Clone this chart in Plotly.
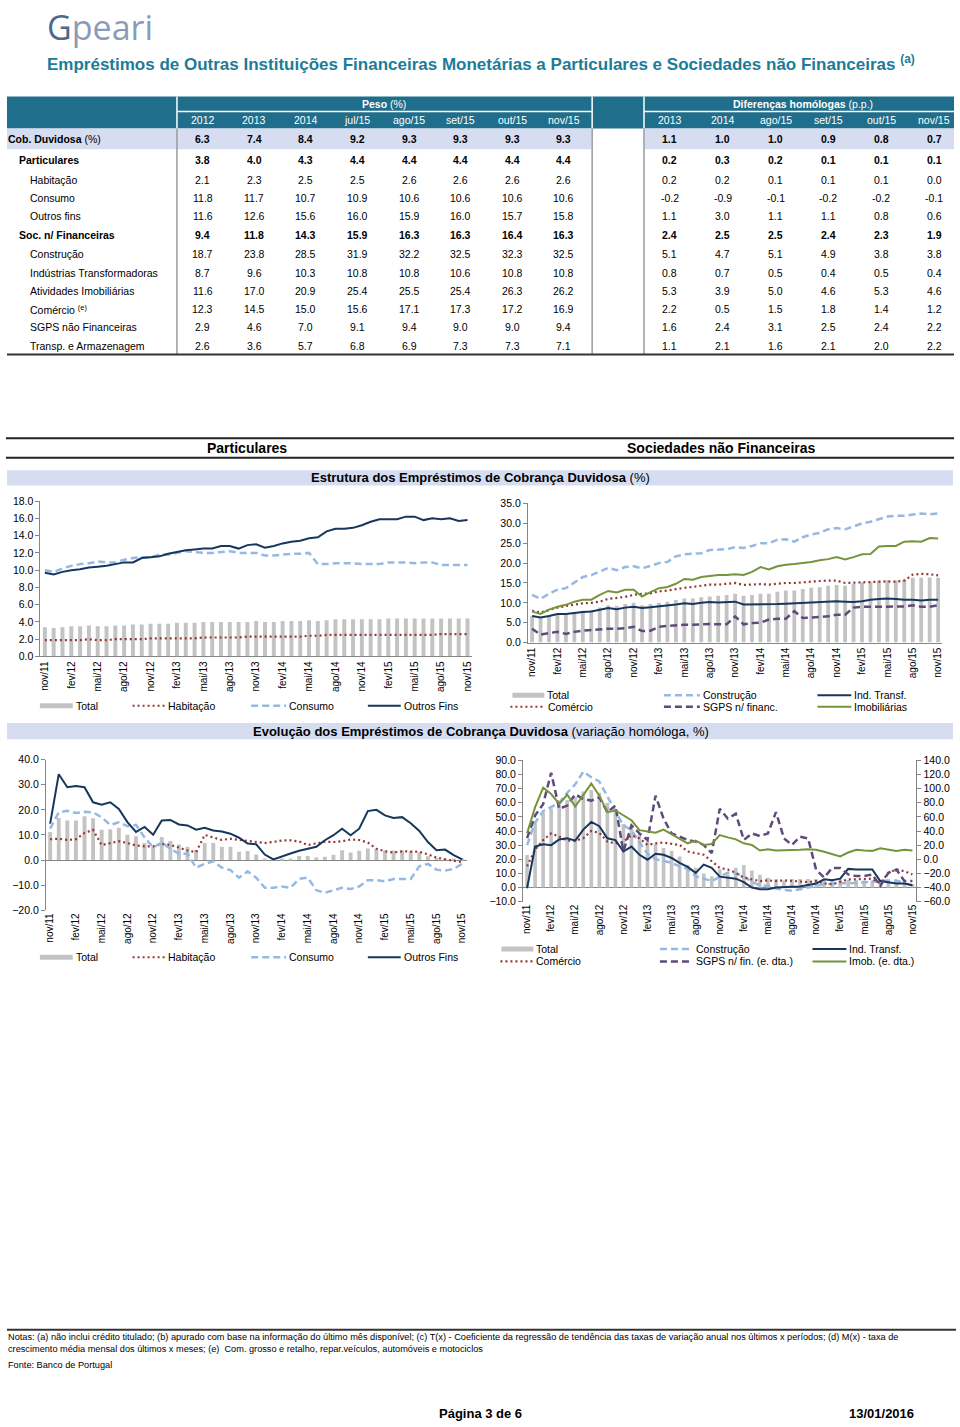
import plotly.graph_objects as go

W, H = 960, 1427
FONT = "Liberation Sans, Arial, Helvetica, sans-serif"

# ---------------- data ----------------
months = ["nov/11", "dez/11",
          "jan/12", "fev/12", "mar/12", "abr/12", "mai/12", "jun/12", "jul/12", "ago/12", "set/12", "out/12", "nov/12", "dez/12",
          "jan/13", "fev/13", "mar/13", "abr/13", "mai/13", "jun/13", "jul/13", "ago/13", "set/13", "out/13", "nov/13", "dez/13",
          "jan/14", "fev/14", "mar/14", "abr/14", "mai/14", "jun/14", "jul/14", "ago/14", "set/14", "out/14", "nov/14", "dez/14",
          "jan/15", "fev/15", "mar/15", "abr/15", "mai/15", "jun/15", "jul/15", "ago/15", "set/15", "out/15", "nov/15"]
tick_months = months[::3]

# Estrutura - Particulares (%)
p_total = [3.4, 3.3, 3.4, 3.5, 3.5, 3.6, 3.5, 3.5, 3.6, 3.6, 3.7, 3.7, 3.8, 3.8, 3.8, 3.9, 3.9, 3.9, 4.0, 4.0,
           4.0, 4.0, 4.0, 4.0, 4.1, 4.0, 4.0, 4.1, 4.1, 4.1, 4.2, 4.1, 4.2, 4.3, 4.3, 4.3, 4.3, 4.3, 4.3, 4.4,
           4.4, 4.4, 4.4, 4.4, 4.4, 4.4, 4.4, 4.4, 4.4]
p_hab = [1.9, 1.9, 1.9, 1.9, 1.9, 2.0, 1.9, 1.9, 2.0, 2.0, 2.0, 2.0, 2.1, 2.1, 2.1, 2.1, 2.1, 2.1, 2.2, 2.2,
         2.2, 2.2, 2.2, 2.3, 2.3, 2.3, 2.3, 2.3, 2.3, 2.3, 2.4, 2.4, 2.5, 2.5, 2.5, 2.5, 2.5, 2.5, 2.5, 2.5,
         2.5, 2.5, 2.5, 2.5, 2.5, 2.6, 2.6, 2.6, 2.6]
p_cons = [10.0, 9.8, 10.2, 10.5, 10.7, 10.8, 11.0, 10.9, 10.9, 11.2, 11.4, 11.5, 11.5, 11.8, 11.8, 12.0, 12.2, 12.1, 12.0, 12.0,
          12.1, 12.2, 12.0, 12.0, 12.0, 11.7, 11.7, 11.8, 11.9, 11.9, 12.0, 10.7, 10.7, 10.8, 10.8, 10.8, 10.7, 10.7, 10.7, 10.9,
          10.9, 10.9, 10.8, 10.9, 10.9, 10.6, 10.6, 10.6, 10.6]
p_outros = [9.7, 9.5, 9.8, 10.0, 10.1, 10.3, 10.4, 10.5, 10.7, 10.9, 10.9, 11.4, 11.5, 11.6, 11.9, 12.1, 12.3, 12.4, 12.5, 12.5,
            12.8, 12.8, 12.5, 12.9, 13.0, 12.6, 12.8, 13.1, 13.3, 13.4, 13.7, 13.8, 14.5, 14.8, 14.8, 14.9, 15.2, 15.6, 15.9, 15.9,
            15.9, 16.2, 16.2, 15.8, 16.0, 15.9, 16.0, 15.7, 15.8]

# Estrutura - Sociedades nao Financeiras (%)
s_total = [6.6, 6.2, 6.7, 7.1, 7.2, 7.6, 8.0, 8.2, 8.8, 9.4, 9.3, 9.7, 10.0, 9.4, 9.7, 10.0, 10.3, 10.7, 11.1, 11.1,
           11.4, 11.6, 11.8, 12.0, 12.3, 11.8, 12.0, 12.3, 12.3, 12.8, 13.1, 13.1, 13.5, 13.8, 13.9, 14.3, 14.5, 14.3, 14.8, 15.2,
           15.3, 15.6, 15.7, 15.7, 15.9, 16.3, 16.3, 16.4, 16.3]
s_cons = [12.0, 11.0, 12.3, 13.3, 13.7, 15.0, 16.5, 17.0, 17.8, 18.8, 18.2, 19.0, 19.2, 18.7, 19.3, 20.0, 20.3, 21.7, 22.2, 22.3,
          22.5, 23.3, 23.4, 23.5, 24.0, 23.8, 24.3, 25.0, 25.0, 25.9, 26.0, 25.4, 26.5, 27.2, 27.6, 28.5, 28.8, 28.5, 29.2, 30.0,
          30.4, 31.0, 31.7, 31.9, 31.9, 32.2, 32.5, 32.3, 32.5]
s_ind = [6.7, 6.3, 6.7, 7.2, 7.2, 7.5, 7.7, 7.8, 8.3, 8.7, 8.4, 8.8, 9.0, 8.7, 8.9, 9.1, 9.4, 9.6, 9.9, 9.7,
         10.0, 10.2, 10.1, 10.2, 10.3, 9.6, 9.6, 9.6, 9.6, 9.7, 9.8, 9.9, 10.1, 10.2, 10.2, 10.3, 10.4, 10.3, 10.2, 10.4,
         10.8, 11.0, 11.1, 11.0, 10.8, 10.8, 10.6, 10.8, 10.8]
s_com = [8.0, 7.6, 8.2, 8.8, 9.2, 9.6, 9.9, 10.0, 10.3, 11.0, 11.2, 11.5, 12.0, 12.3, 12.4, 12.9, 13.1, 13.5, 13.8, 14.0,
         14.3, 14.6, 14.6, 14.8, 15.0, 14.5, 14.6, 14.7, 14.6, 14.8, 15.0, 15.0, 15.2, 15.4, 15.5, 15.6, 15.6, 15.0, 15.1, 15.2,
         15.3, 15.3, 15.4, 15.3, 15.6, 17.1, 17.3, 17.2, 16.9]
s_sgps = [3.5, 2.0, 2.4, 2.7, 2.2, 2.7, 3.0, 3.2, 3.3, 3.5, 3.5, 3.6, 4.0, 2.9, 3.0, 4.0, 4.2, 4.4, 4.5, 4.5,
          4.6, 4.7, 4.6, 4.6, 6.6, 4.6, 4.9, 5.0, 5.8, 6.0, 6.0, 7.9, 6.2, 6.3, 6.4, 6.6, 7.0, 7.0, 8.8, 9.0,
          9.0, 9.0, 9.1, 9.0, 9.1, 9.4, 9.0, 9.0, 9.4]
s_imob = [7.8, 7.2, 8.3, 9.0, 9.5, 10.3, 10.8, 10.8, 12.0, 13.0, 12.6, 13.3, 13.3, 11.6, 12.7, 13.7, 14.0, 14.8, 16.0, 15.8,
          16.5, 16.8, 17.0, 17.0, 17.2, 17.0, 17.8, 19.0, 18.4, 19.2, 19.6, 19.8, 20.0, 20.3, 20.7, 21.0, 21.5, 20.9, 21.5, 22.2,
          22.3, 24.2, 24.3, 24.3, 25.4, 25.5, 25.4, 26.3, 26.2]

# Evolucao - Particulares (variacao homologa, %)
v_p_total = [11.2, 16.8, 15.8, 15.8, 17.5, 16.7, 12.1, 12.3, 12.9, 10.1, 9.5, 6.8, 5.3, 9.2, 7.6, 6.2, 5.3, 4.0, 6.8, 6.8,
             5.3, 5.3, 3.3, 3.6, 2.2, 0.5, 0.3, 0.4, 0.5, 1.6, 1.6, 1.0, 1.3, 2.1, 3.9, 3.0, 3.7, 4.6, 4.3, 3.8,
             3.8, 3.8, 3.5, 3.0, 1.5, 0.8, 0.5, 0.3, 0.2]
v_p_hab = [8.3, 8.5, 8.0, 8.3, 10.8, 12.0, 6.0, 6.8, 7.5, 6.8, 5.8, 5.5, 5.5, 6.5, 6.0, 5.0, 3.8, 3.2, 10.0, 9.0,
           8.0, 8.5, 8.0, 7.5, 7.0, 6.8, 7.2, 7.8, 7.9, 7.4, 6.0, 6.5, 7.3, 7.2, 7.5, 8.2, 8.0, 7.0, 4.5, 3.5,
           3.0, 3.5, 3.5, 3.3, 2.3, 1.0, 0.3, -0.3, -0.8]
v_p_cons = [12.5, 19.0, 19.6, 18.8, 19.2, 19.0, 17.0, 14.0, 15.0, 13.5, 14.0, 9.0, 5.0, 7.0, 4.5, 2.5, 2.5, -3.0, -1.5, -0.5,
            -3.0, -4.0, -7.0, -4.5, -7.0, -11.0, -11.0, -10.5, -11.0, -7.5, -7.0, -12.0, -13.0, -12.0, -11.0, -11.5, -10.5, -8.0, -8.0, -8.5,
            -7.5, -7.5, -7.5, -2.5, -1.5, -3.8, -4.2, -3.5, -1.5]
v_p_outros = [14.5, 34.2, 29.0, 29.5, 29.0, 23.0, 22.0, 23.0, 20.4, 15.1, 11.2, 13.2, 10.1, 15.8, 16.0, 14.2, 13.8, 12.1, 12.9, 11.8,
              11.4, 10.5, 8.9, 6.6, 6.3, 2.2, 0.3, 1.6, 2.6, 3.7, 4.6, 5.3, 7.9, 9.9, 12.5, 9.9, 12.5, 19.5, 20.0, 17.8,
              16.8, 17.1, 14.7, 11.6, 7.2, 3.9, 4.2, 2.0, 0.3]

# Evolucao - Sociedades nao Financeiras (variacao homologa, %)
v_s_total = [23, 46, 53, 56, 59, 62, 64, 68, 69, 67, 60, 53, 45, 43, 38, 33, 31, 28, 26, 22,
             16, 14, 10, 8, 13, 9, 14, 16, 12, 9, 7, 6, 5, 6, 6, 6, 6, 6, 6, 6,
             5.5, 5.5, 5, 5, 5, 4.5, 4.5, 4, 2.5]
v_s_cons = [30, 46, 54, 57, 60, 67, 73, 82, 78, 75, 64, 54, 44, 40.6, 32, 24, 20, 19, 17.4, 15,
            13.2, 8, 6.3, 4.6, 7.6, 10.4, 10, 8, 4, 1.6, 1.2, -0.7, -1.6, -2.3, -1.2, 0.2, 1.2, 2.3, 2.8, 3,
            3, 3.5, 4, 4.5, 5, 5, 5, 3, 1.6]
v_s_ind = [-0.5, 29, 30.6, 30, 34, 34.8, 33.2, 41, 46.4, 43.4, 34.8, 33.6, 25.5, 29, 23.2, 19.7, 23.9, 23.2, 20.9, 17.4,
           14.6, 10.4, 16.2, 13.9, 7.7, 7, 6.3, 3.9, 0, -1.2, -1.2, 0, 0, 0.5, 0.7, 1.6, 2.8, 5.8, 5.1, 6.3,
           13.2, 12.8, 12.8, 12.8, 4.6, 3.5, 2.8, 2.8, 1.6]
v_s_com = [15, 26.7, 33.6, 38.3, 36, 33.2, 33.2, 34.8, 40, 38.7, 32.5, 31.3, 32.5, 37, 34.8, 30.2, 31.3, 31.8, 30.9, 30.2,
           25.5, 24.4, 23.2, 18.6, 13.9, 12.8, 10.4, 7, 5.8, 4.6, 5.1, 4.6, 5.1, 4.6, 3.9, 3.9, 4.6, 3, 2.3, 3.9,
           5.8, 5.8, 5.8, 6.3, 3, 10.4, 12.8, 11.6, 9.3]
v_s_sgps = [30, 62, 78, 122.4, 71.4, 76, 92, 85, 83, 87.6, 66.7, 76, 11, 48, 36.6, 27.3, 90, 57.5, 36.6, 32,
            27.3, 25, 20.3, 8.7, 71.4, 57.5, 64.4, 27.3, 36.6, 32.9, 36.6, 66.7, 29.6, 20.3, 32, 29.6, -14.5, -26, -12.2, -12.2,
            -21.4, -23.8, -23.8, -21.4, -37.7, -19.1, -14.5, -30.7, -30.7]
v_s_imob = [36.6, 73.7, 101.5, 92.3, 78.3, 91.3, 74.6, 90, 107, 90, 66.7, 69, 62, 55.2, 41.2, 38.9, 37.5, 42.1, 35.6, 29.6,
            22.6, 26.4, 20.3, 21.7, 34.2, 31, 28.2, 22.6, 20.3, 12.4, 14.3, 12.4, 12.4, 12.4, 13.4, 14.3, 13.4, 10.6, 7.8, 4.1,
            9.6, 13.4, 12.4, 11.9, 15.7, 13.4, 11.9, 13.4, 12.4]

# Table
peso_cols = ["2012", "2013", "2014", "jul/15", "ago/15", "set/15", "out/15", "nov/15"]
dif_cols = ["2013", "2014", "ago/15", "set/15", "out/15", "nov/15"]
row_labels = ["<b>Cob. Duvidosa</b> (%)", "<b>Particulares</b>", "Habitação", "Consumo", "Outros fins",
              "<b>Soc. n/ Financeiras</b>", "Construção", "Indústrias Transformadoras", "Atividades Imobiliárias",
              "Comércio <sup>(e)</sup>", "SGPS não Financeiras", "Transp. e Armazenagem"]
row_bold = [True, True, False, False, False, True, False, False, False, False, False, False]
row_indent = [0, 1, 2, 2, 2, 1, 2, 2, 2, 2, 2, 2]
peso_rows = [
    [6.3, 7.4, 8.4, 9.2, 9.3, 9.3, 9.3, 9.3],
    [3.8, 4.0, 4.3, 4.4, 4.4, 4.4, 4.4, 4.4],
    [2.1, 2.3, 2.5, 2.5, 2.6, 2.6, 2.6, 2.6],
    [11.8, 11.7, 10.7, 10.9, 10.6, 10.6, 10.6, 10.6],
    [11.6, 12.6, 15.6, 16.0, 15.9, 16.0, 15.7, 15.8],
    [9.4, 11.8, 14.3, 15.9, 16.3, 16.3, 16.4, 16.3],
    [18.7, 23.8, 28.5, 31.9, 32.2, 32.5, 32.3, 32.5],
    [8.7, 9.6, 10.3, 10.8, 10.8, 10.6, 10.8, 10.8],
    [11.6, 17.0, 20.9, 25.4, 25.5, 25.4, 26.3, 26.2],
    [12.3, 14.5, 15.0, 15.6, 17.1, 17.3, 17.2, 16.9],
    [2.9, 4.6, 7.0, 9.1, 9.4, 9.0, 9.0, 9.4],
    [2.6, 3.6, 5.7, 6.8, 6.9, 7.3, 7.3, 7.1],
]
dif_rows = [
    [1.1, 1.0, 1.0, 0.9, 0.8, 0.7],
    [0.2, 0.3, 0.2, 0.1, 0.1, 0.1],
    [0.2, 0.2, 0.1, 0.1, 0.1, 0.0],
    [-0.2, -0.9, -0.1, -0.2, -0.2, -0.1],
    [1.1, 3.0, 1.1, 1.1, 0.8, 0.6],
    [2.4, 2.5, 2.5, 2.4, 2.3, 1.9],
    [5.1, 4.7, 5.1, 4.9, 3.8, 3.8],
    [0.8, 0.7, 0.5, 0.4, 0.5, 0.4],
    [5.3, 3.9, 5.0, 4.6, 5.3, 4.6],
    [2.2, 0.5, 1.5, 1.8, 1.4, 1.2],
    [1.6, 2.4, 3.1, 2.5, 2.4, 2.2],
    [1.1, 2.1, 1.6, 2.1, 2.0, 2.2],
]

# ---------------- styles ----------------
GREY = "#C3C3C3"
NAVY = "#17365D"
LBLUE = "#95B9E3"
RED = "#953735"
PURPLE = "#604A7B"
GREEN = "#77933C"
AX = "#868686"
DARK = "#1F6E8C"
LAV = "#D6DDF1"
TEAL = "#1B7C99"
DOT = "2px,3px"
DASH = "7px,4px"

shapes = []
annotations = []


def X(x):
    return x / W


def Y(y):
    return 1 - y / H


def rect(x0, y0, x1, y1, fill):
    shapes.append(dict(type="rect", xref="paper", yref="paper", x0=X(x0), x1=X(x1), y0=Y(y1), y1=Y(y0),
                       fillcolor=fill, line=dict(width=0), layer="below"))


def seg(x0, y0, x1, y1, color, width=1.0, dash="solid"):
    shapes.append(dict(type="line", xref="paper", yref="paper", x0=X(x0), x1=X(x1), y0=Y(y0), y1=Y(y1),
                       line=dict(color=color, width=width, dash=dash)))


def text(x, y, s, size=10.5, color="black", anchor="left", family=FONT):
    annotations.append(dict(xref="paper", yref="paper", x=X(x), y=Y(y), text=s, showarrow=False,
                            xanchor=anchor, yanchor="middle", borderpad=0, borderwidth=0,
                            font=dict(size=size, color=color, family=family)))


def leg(x0, x1, y, kind, color, label, dash="solid", width=2.0):
    if kind == "bar":
        rect(x0, y - 2.5, x1, y + 2.5, color)
    else:
        seg(x0, y, x1, y, color, width, dash)
    text(x1 + 3, y, label)


# ---------------- header ----------------
text(45, 21, "<span style='color:#50688F'>G</span>peari", size=34, color="#8A9BB8", family="Open Sans, Lato, sans-serif")
text(45, 57, "<b>Empréstimos de Outras Instituições Financeiras Monetárias a Particulares e Sociedades não Financeiras</b> <sup><b>(a)</b></sup>",
     size=17, color=TEAL)

# ---------------- table ----------------
rect(5, 91.3, 955, 123.5, DARK)
seg(175.5, 91.3, 175.5, 123.5, "white", 1.5)
seg(592, 91.3, 592, 123.5, "white", 1.5)
seg(644, 91.3, 644, 123.5, "white", 1.5)
seg(176, 106.5, 592, 106.5, "white", 1.5)
seg(644, 106.5, 955, 106.5, "white", 1.5)
rect(5, 123.5, 591.3, 144.5, LAV)
rect(644.7, 123.5, 955, 144.5, LAV)
seg(175.5, 123.5, 175.5, 351, "#9A9A9A", 1.5)
seg(592, 123.5, 592, 351, "#9A9A9A", 1.5)
seg(644, 123.5, 644, 351, "#9A9A9A", 1.5)
seg(5, 351.5, 955, 351.5, "#333333", 2)

text(383.5, 98.5, "<b>Peso</b> (%)", size=10.5, color="white", anchor="center")
text(804, 98.5, "<b>Diferenças homólogas</b> (p.p.)", size=10.5, color="white", anchor="center")
peso_x = [201.5 + i * 51.7 for i in range(len(peso_cols))]
dif_x = [670 + i * 53 for i in range(len(dif_cols))]
for cx, c in zip(peso_x, peso_cols):
    text(cx, 115, c, size=10.5, color="white", anchor="center")
for cx, c in zip(dif_x, dif_cols):
    text(cx, 115, c, size=10.5, color="white", anchor="center")

row_y = [134, 155, 175, 193.5, 211.5, 231, 250.5, 269, 287.5, 306, 324, 342.5]
indent_x = [6, 17, 28]
for r, lab in enumerate(row_labels):
    yy = row_y[r]
    text(indent_x[row_indent[r]], yy, lab, size=10.5)
    for cx, v in zip(peso_x, peso_rows[r]):
        s = f"{v:.1f}"
        text(cx, yy, f"<b>{s}</b>" if row_bold[r] else s, size=10.5, anchor="center")
    for cx, v in zip(dif_x, dif_rows[r]):
        s = f"{v:.1f}"
        text(cx, yy, f"<b>{s}</b>" if row_bold[r] else s, size=10.5, anchor="center")

# ---------------- section headers ----------------
seg(4, 436, 955, 436, "#222222", 2)
seg(4, 455.5, 955, 455.5, "#222222", 2)
text(246, 446, "<b>Particulares</b>", size=14, anchor="center")
text(722, 446, "<b>Sociedades não Financeiras</b>", size=14, anchor="center")
rect(5, 468.3, 954, 483.5, LAV)
text(480, 476, "<b>Estrutura dos Empréstimos de Cobrança Duvidosa</b> (%)", size=13, anchor="center")
rect(5, 723, 954, 739.5, LAV)
text(480, 731.3, "<b>Evolução dos Empréstimos de Cobrança Duvidosa</b> (variação homóloga, %)", size=13, anchor="center")

# ---------------- legends ----------------
for ly in (705.7, 959.3):
    leg(38, 71, ly, "bar", GREY, "Total")
    leg(131, 164, ly, "line", RED, "Habitação", DOT, 2.2)
    leg(250, 285, ly, "line", LBLUE, "Consumo", DASH, 2.5)
    leg(367, 400, ly, "line", NAVY, "Outros Fins", "solid", 2)

leg(512, 544, 695, "bar", GREY, "Total")
leg(664, 700, 695, "line", LBLUE, "Construção", DASH, 2.5)
leg(818, 852, 695, "line", NAVY, "Ind. Transf.", "solid", 2)
leg(510, 545, 706.7, "line", RED, "Comércio", DOT, 2.2)
leg(664, 700, 706.7, "line", PURPLE, "SGPS n/ financ.", DASH, 2.5)
leg(818, 852, 706.7, "line", GREEN, "Imobiliárias", "solid", 2)

leg(501, 533, 951, "bar", GREY, "Total")
leg(660, 693, 951, "line", LBLUE, "Construção", DASH, 2.5)
leg(813, 847, 951, "line", NAVY, "Ind. Transf.", "solid", 2)
leg(500, 533, 963.5, "line", RED, "Comércio", DOT, 2.2)
leg(660, 693, 963.5, "line", PURPLE, "SGPS n/ fin. (e. dta.)", DASH, 2.5)
leg(813, 847, 963.5, "line", GREEN, "Imob. (e. dta.)", "solid", 2)

# ---------------- notes / footer ----------------
seg(5, 1335, 957, 1335, "#333333", 2)
text(6, 1342.5, "Notas: (a) não inclui crédito titulado; (b) apurado com base na informação do último mês disponível; (c) T(x) - Coeficiente da regressão de tendência das taxas de variação anual nos últimos x períodos; (d) M(x) - taxa de", size=9.2)
text(6, 1354.5, "crescimento média mensal dos últimos x meses; (e)  Com. grosso e retalho, repar.veículos, automóveis e motociclos", size=9.2)
text(6, 1371, "Fonte: Banco de Portugal", size=9.2)
text(480, 1419, "<b>Página 3 de 6</b>", size=13, anchor="center")
text(882, 1419, "<b>13/01/2016</b>", size=13, anchor="center")

# ---------------- traces ----------------
fig = go.Figure()


def bar(y, xa, ya):
    fig.add_trace(go.Bar(x=months, y=y, marker=dict(color=GREY, line=dict(width=0)), width=0.45,
                         xaxis=xa, yaxis=ya, hoverinfo="skip"))


def ln(y, xa, ya, color, dash="solid", width=2.0):
    fig.add_trace(go.Scatter(x=months, y=y, mode="lines", line=dict(color=color, width=width, dash=dash),
                             xaxis=xa, yaxis=ya, hoverinfo="skip"))


bar(p_total, "x", "y")
ln(p_hab, "x", "y", RED, DOT, 2.2)
ln(p_cons, "x", "y", LBLUE, DASH, 2.5)
ln(p_outros, "x", "y", NAVY, "solid", 2)

bar(s_total, "x2", "y2")
ln(s_sgps, "x2", "y2", PURPLE, DASH, 2.5)
ln(s_ind, "x2", "y2", NAVY, "solid", 2)
ln(s_com, "x2", "y2", RED, DOT, 2.2)
ln(s_imob, "x2", "y2", GREEN, "solid", 2)
ln(s_cons, "x2", "y2", LBLUE, DASH, 2.5)

bar(v_p_total, "x3", "y3")
ln(v_p_hab, "x3", "y3", RED, DOT, 2.2)
ln(v_p_cons, "x3", "y3", LBLUE, DASH, 2.5)
ln(v_p_outros, "x3", "y3", NAVY, "solid", 2)

bar(v_s_total, "x4", "y4")
ln(v_s_cons, "x4", "y4", LBLUE, DASH, 2.5)
ln(v_s_com, "x4", "y4", RED, DOT, 2.2)
ln(v_s_ind, "x4", "y4", NAVY, "solid", 2)
ln(v_s_sgps, "x4", "y5", PURPLE, DASH, 2.5)
ln(v_s_imob, "x4", "y5", GREEN, "solid", 2)


def xax(x0, x1, anchor, line=True):
    return dict(domain=[X(x0), X(x1)], anchor=anchor, type="category", categoryorder="array",
                categoryarray=months, range=[-0.5, len(months) - 0.5], tickmode="array", tickvals=tick_months,
                tickangle=-90, tickfont=dict(size=10, color="black", family=FONT), showline=line,
                linecolor=AX, linewidth=1, ticks="", showgrid=False, zeroline=False, fixedrange=True)


def yax(top, bottom, anchor, rng, dtick, zero=False, **kw):
    d = dict(domain=[Y(bottom), Y(top)], anchor=anchor, range=rng, dtick=dtick, tickformat=".1f",
             showline=True, linecolor=AX, linewidth=1, ticks="outside", ticklen=4, tickcolor=AX,
             showgrid=False, zeroline=zero, zerolinecolor=AX, zerolinewidth=1,
             tickfont=dict(size=10.5, color="black", family=FONT), fixedrange=True)
    d.update(kw)
    return d


fig.update_layout(
    width=W, height=H, margin=dict(l=0, r=0, t=0, b=0),
    paper_bgcolor="white", plot_bgcolor="white", showlegend=False, hovermode=False,
    font=dict(family=FONT, color="black"),
    shapes=shapes, annotations=annotations,
    xaxis=xax(38.6, 471.4, "y"),
    yaxis=yax(499.3, 656, "x", [0, 18], 2),
    xaxis2=xax(527.5, 943.3, "y2"),
    yaxis2=yax(501.7, 642, "x2", [0, 35], 5),
    xaxis3=xax(44, 466, "y3", line=False),
    yaxis3=yax(760, 912, "x3", [-20, 40], 10, zero=True),
    xaxis4=xax(522.7, 917.3, "y4", line=False),
    yaxis4=yax(760.7, 903.3, "x4", [-10, 90], 10, zero=True),
    yaxis5=yax(760.7, 903.3, "x4", [-60, 140], 20, overlaying="y4", side="right"),
)

fig.write_html("out.html", config={"displayModeBar": False},
               post_script="document.body.style.margin='0';document.body.style.padding='0';document.body.style.overflow='hidden';")
